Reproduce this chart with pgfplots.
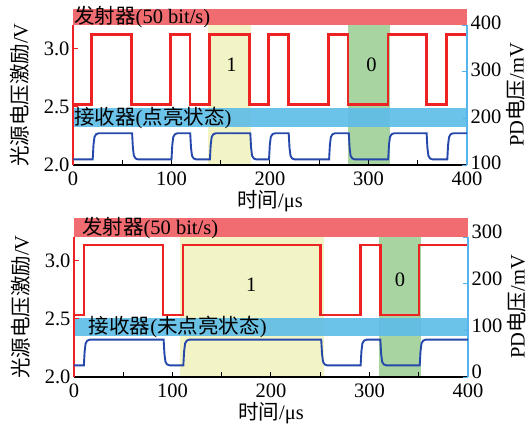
\documentclass[border=0pt]{standalone}
\usepackage{fontspec}
\setmainfont{Liberation Serif}
\newfontfamily\cjk{Noto Sans CJK SC}
\usepackage{pgfplots}
\pgfplotsset{compat=1.18}

\definecolor{sigred}{RGB}{237,35,35}
\definecolor{bannerred}{RGB}{240,108,112}
\definecolor{bannerblue}{RGB}{92,188,232}
\definecolor{sigblue}{RGB}{38,72,170}
\definecolor{axblue}{RGB}{85,180,235}
\definecolor{fillyellow}{RGB}{243,244,198}
\definecolor{fillgreen}{RGB}{168,212,162}

\pgfplotsset{
 base/.style={width=394pt,height=140pt,scale only axis,xmin=0,xmax=400,clip=false,
  font=\fontsize{20.5}{24}\selectfont,
  tick label style={font=\fontsize{20.5}{24}\selectfont},
  /pgf/number format/assume math mode=true,
  major tick length=5pt, tick align=inside},
 leftax/.style={base, axis on top, axis x line*=bottom, axis y line*=left,
  xtick pos=left, ytick pos=left,
  ymin=2, ymax=3.2,
  xtick={0,50,...,400}, xticklabels={0,,100,,200,,300,,400},
  xticklabel style={yshift=-3pt},
  ytick={2,2.5,3},
  yticklabel style={/pgf/number format/fixed,/pgf/number format/fixed zerofill,/pgf/number format/precision=1},
  x axis line style={black,line width=1.6pt,-},
  y axis line style={sigred,line width=2pt,-},
  xtick style={black,line width=1pt},
  ytick style={sigred,line width=1pt},
  xlabel={{\cjk 时间}/μs}, ylabel={{\cjk 光源电压激励}/V},
  xlabel style={at={(axis description cs:0.5,-0.26)},anchor=center},
  ylabel style={at={(axis description cs:-0.135,0.5)},anchor=center}},
 rightax/.style={base, axis x line=none, axis y line*=right, xtick=\empty,
  ytick pos=right, yticklabel pos=right,
  yticklabel style={yshift=2pt},
  ytick style={axblue,line width=1pt},
  y axis line style={axblue,line width=1.6pt,-},
  ylabel={PD{\cjk 电压}/mV},
  ylabel style={at={(axis description cs:1.124,0.5)},anchor=center}}
}

\begin{document}
\begin{tikzpicture}
\useasboundingbox (0,0) rectangle (531pt,-424pt);

% ---------------- top panel ----------------
\begin{axis}[leftax, at={(73pt,-165pt)}, anchor=south west]
\fill[fillyellow] (axis cs:137,2) rectangle (axis cs:181,3.2);
\fill[fillgreen] (axis cs:279,2) rectangle (axis cs:321.5,3.2);
\fill[bannerred] (axis cs:0,3.2) rectangle (axis cs:400,3.337);
\fill[bannerblue,opacity=0.9] (axis cs:0,2.33) rectangle (axis cs:400,2.485);
\node[anchor=west,inner sep=0pt] at (axis cs:1,3.268) {{\cjk 发射器}(50 bit/s)};
\node[anchor=west,inner sep=0pt] at (axis cs:1,2.407) {{\cjk 接收器}({\cjk 点亮状态})};
\node at (axis cs:161,2.86) {1};
\node at (axis cs:303,2.86) {0};
\addplot[sigred, line width=2.5pt] coordinates {
(0,2.52)(19,2.52)(19,3.12)(59.5,3.12)(59.5,2.52)(99,2.52)(99,3.12)(118.7,3.12)(118.7,2.52)
(138.7,2.52)(138.7,3.12)(179.4,3.12)(179.4,2.52)(198.5,2.52)(198.5,3.12)(218.7,3.12)(218.7,2.52)
(259.4,2.52)(259.4,3.12)(279.4,3.12)(279.4,2.52)(319.7,2.52)(319.7,3.12)(358.7,3.12)(358.7,2.52)
(379.4,2.52)(379.4,3.12)(400,3.12)};
\end{axis}
\begin{axis}[rightax, at={(73pt,-165pt)}, anchor=south west, ymin=100, ymax=400, ytick={100,200,300,400}]
\addplot[sigblue, line width=1.9pt] coordinates {
(0,112)(20,112)(20.8,143)(21.8,160)(23.5,166)(26,168)
(60,168)(60.8,137)(61.8,120)(63.5,114)(66,112)
(100,112)(100.8,143)(101.8,160)(103.5,166)(106,168)
(119,168)(119.8,137)(120.8,120)(122.5,114)(125,112)
(139,112)(139.8,143)(140.8,160)(142.5,166)(145,168)
(180,168)(180.8,137)(181.8,120)(183.5,114)(186,112)
(199,112)(199.8,143)(200.8,160)(202.5,166)(205,168)
(219,168)(219.8,137)(220.8,120)(222.5,114)(225,112)
(260,112)(260.8,143)(261.8,160)(263.5,166)(266,168)
(280,168)(280.8,137)(281.8,120)(283.5,114)(286,112)
(320,112)(320.8,143)(321.8,160)(323.5,166)(326,168)
(359,168)(359.8,137)(360.8,120)(362.5,114)(365,112)
(380,112)(380.8,143)(381.8,160)(383.5,166)(386,168)
(400,168)};
\end{axis}

% ---------------- bottom panel ----------------
\begin{axis}[leftax, at={(74pt,-377pt)}, anchor=south west]
\fill[fillyellow] (axis cs:108,2) rectangle (axis cs:254,3.2);
\fill[fillgreen] (axis cs:310,2) rectangle (axis cs:352.5,3.2);
\fill[bannerred] (axis cs:0,3.2) rectangle (axis cs:400,3.36);
\fill[bannerblue,opacity=0.9] (axis cs:0,2.35) rectangle (axis cs:400,2.51);
\node[anchor=west,inner sep=0pt] at (axis cs:8,3.28) {{\cjk 发射器}(50 bit/s)};
\node[anchor=west,inner sep=0pt] at (axis cs:15,2.43) {{\cjk 接收器}({\cjk 未点亮状态})};
\node at (axis cs:180,2.79) {1};
\node at (axis cs:331,2.83) {0};
\addplot[sigred, line width=2.5pt] coordinates {
(0,2.53)(10,2.53)(10,3.13)(90.5,3.13)(90.5,2.53)(110.5,2.53)(110.5,3.13)(250.5,3.13)(250.5,2.53)
(291,2.53)(291,3.13)(311,3.13)(311,2.53)(350.5,2.53)(350.5,3.13)(400,3.13)};
\end{axis}
\begin{axis}[rightax, at={(74pt,-377pt)}, anchor=south west, ymin=0, ymax=300, ytick={0,100,200,300},
  yticklabel style={yshift=3pt}]
\addplot[sigblue, line width=1.9pt] coordinates {
(0,25)(10,25)(10.8,55)(11.8,72)(13.5,78)(16,80)
(91,80)(91.8,50)(92.8,33)(94.5,27)(97,25)
(111,25)(111.8,55)(112.8,72)(114.5,78)(117,80)
(251,80)(251.8,50)(252.8,33)(254.5,27)(257,25)
(291,25)(291.8,55)(292.8,72)(294.5,78)(297,80)
(311,80)(311.8,50)(312.8,33)(314.5,27)(317,25)
(351,25)(351.8,55)(352.8,72)(354.5,78)(357,80)
(400,80)};
\end{axis}
\end{tikzpicture}
\end{document}
